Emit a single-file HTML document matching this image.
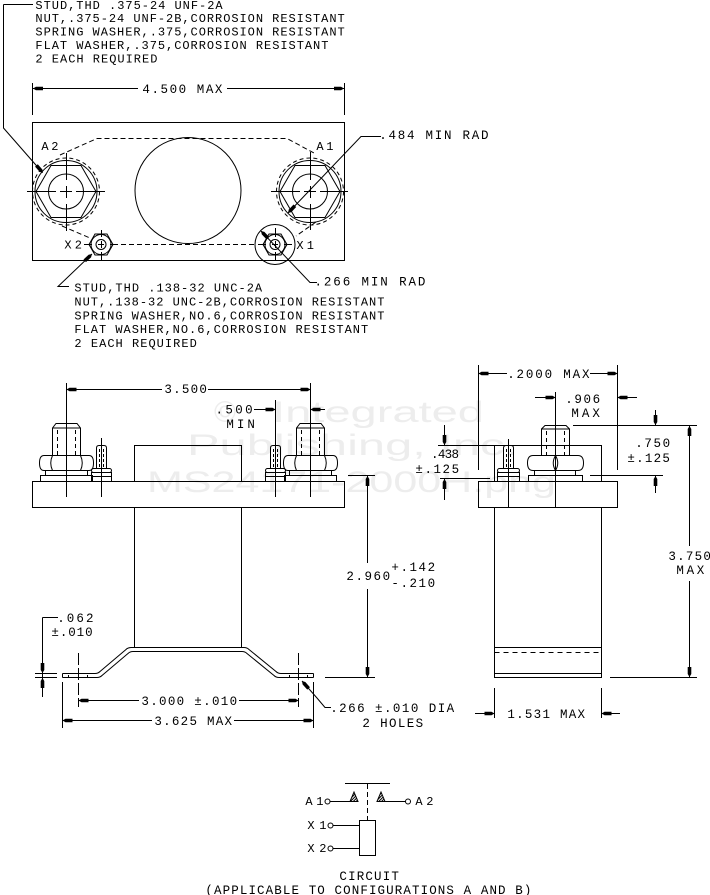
<!DOCTYPE html>
<html><head><meta charset="utf-8"><style>
html,body{margin:0;padding:0;background:#fff}
svg{display:block}
.t{font-family:"Liberation Mono",monospace;fill:#000;stroke:none}
</style></head><body>
<svg xmlns="http://www.w3.org/2000/svg" width="710" height="895" viewBox="0 0 710 895">
<defs>
<polygon id="ar" points="0,0 -3,-1.8 -10,-1.8 -10,1.8 -3,1.8"/>
<pattern id="hatch" width="2" height="2" patternUnits="userSpaceOnUse" patternTransform="rotate(45)"><rect width="2" height="2" fill="#fff"/><rect width="1" height="2" fill="#000"/></pattern>
</defs>
<rect width="710" height="895" fill="#fff"/>

<!-- watermark -->
<g fill="#ededed" font-family="Liberation Sans, sans-serif" font-size="30">
<text x="214" y="422">©</text>
<text x="272" y="422" textLength="212" lengthAdjust="spacingAndGlyphs">Integrated</text>
<text x="187" y="455" textLength="331" lengthAdjust="spacingAndGlyphs">Publishing, Inc.</text>
<text x="147" y="492" textLength="409" lengthAdjust="spacingAndGlyphs">MS24171-2000H.png</text>
</g>

<g stroke="#000" stroke-width="1" fill="none">
<!-- ================= TOP VIEW ================= -->
<path d="M3.5,4.5 H33 M3.5,4.5 V128 L42,172"/>
<path d="M32.5,83 V115 M344.5,83 V115 M33,88.5 H138 M227,88.5 H344"/>
<rect x="32.5" y="122.5" width="312" height="138"/>
<path stroke-dasharray="5,3" d="M60,155 L97,138.5 H287 L314,153 M62,226 L90,238 M113,244.5 H255 M316,222 L296,236"/>
<circle cx="188" cy="190.5" r="53"/>

<!-- A2 -->
<circle cx="66" cy="191.5" r="31"/>
<circle cx="66" cy="191.5" r="33.5" stroke-dasharray="4,3"/>
<polygon points="96,191.5 81,165.5 51,165.5 36,191.5 51,217.5 81,217.5"/>
<circle cx="66" cy="191.5" r="17.5"/>
<path d="M27,191.5 H56 M60,191.5 H72 M76,191.5 H105 M66.5,153 V180 M66.5,186 V198 M66.5,204 V231"/>
<!-- A1 -->
<circle cx="310" cy="191.5" r="31"/>
<circle cx="310" cy="191.5" r="33.5" stroke-dasharray="4,3"/>
<polygon points="340,191.5 325,165.5 295,165.5 280,191.5 295,217.5 325,217.5"/>
<circle cx="310" cy="191.5" r="17.5"/>
<path d="M271,191.5 H300 M304,191.5 H316 M320,191.5 H348 M310.5,152 V180 M310.5,186 V198 M310.5,204 V230"/>
<!-- X2 -->
<polygon points="113,244.5 107,234 95,234 89,244.5 95,255 107,255"/>
<circle cx="101" cy="244.5" r="10"/>
<circle cx="101" cy="244.5" r="5"/>
<path d="M84,244.5 H92 M98,244.5 H104 M110,244.5 H118 M101.5,230 V237 M101.5,241 V248 M101.5,252 V260"/>
<!-- X1 -->
<circle cx="275" cy="244.5" r="20"/>
<polygon points="287,244.5 281,234 269,234 263,244.5 269,255 281,255"/>
<circle cx="275" cy="244.5" r="10"/>
<circle cx="275" cy="244.5" r="5"/>
<path d="M258,244.5 H266 M272,244.5 H278 M284,244.5 H292 M275.5,228 V237 M275.5,241 V248 M275.5,252 V261"/>

<path d="M288,213 L361,136.5 H381"/>
<path d="M261,231 L310,282.5 H317"/>
<path d="M92,254 L58,286.5 H69"/>

<!-- ================= SIDE VIEW (LEFT) ================= -->
<path d="M66.5,383 V497 M310.5,383 V497 M67,389.5 H162 M208,389.5 H310"/>
<path d="M275.5,400 V497 M254,409.5 H275 M311,409.5 H325"/>
<rect x="32.5" y="481.5" width="312" height="26"/>
<path d="M134.5,481.5 V445.5 H241.5 V481.5"/>
<path d="M134.5,507.5 V647.5 M241.5,507.5 V647.5"/>

<!-- left big stud -->
<path d="M52.5,455 V428 L56,423.5 H77 L80.5,428 V455 M52.5,428 H80.5"/>
<path stroke-dasharray="4,3" d="M57.5,430 V455 M75.5,430 V455"/>
<path d="M44,455.5 H89 Q93.5,455.5 93.5,463 Q93.5,470.5 89,470.5 H44 Q39.5,470.5 39.5,463 Q39.5,455.5 44,455.5 Z M52.5,455.5 Q49,463 52.5,470.5 M80.5,455.5 Q84,463 80.5,470.5"/>
<rect x="45.5" y="470.5" width="42" height="5"/>
<rect x="40.5" y="475.5" width="52" height="6"/>
<!-- right big stud -->
<path d="M296.5,455 V428 L300,423.5 H321 L324.5,428 V455 M296.5,428 H324.5"/>
<path stroke-dasharray="4,3" d="M301.5,430 V455 M319.5,430 V455"/>
<path d="M288,455.5 H333 Q337.5,455.5 337.5,463 Q337.5,470.5 333,470.5 H288 Q283.5,470.5 283.5,463 Q283.5,455.5 288,455.5 Z M296.5,455.5 Q293,463 296.5,470.5 M324.5,455.5 Q328,463 324.5,470.5"/>
<rect x="289.5" y="470.5" width="42" height="5"/>
<rect x="284.5" y="475.5" width="52" height="6"/>
<!-- left small stud -->
<path d="M101.5,438 V497"/>
<path d="M96.5,468 V448 Q96.5,445.5 99,445.5 H104 Q106.5,445.5 106.5,448 V468"/>
<path stroke-dasharray="3,2" d="M99.5,449 V468 M103.5,449 V468"/>
<rect x="91.5" y="468.5" width="20" height="4" rx="2"/>
<rect x="91.5" y="472.5" width="20" height="4"/>
<rect x="91.5" y="476.5" width="20" height="5"/>
<!-- right small stud -->
<path d="M270.5,468 V448 Q270.5,445.5 273,445.5 H278 Q280.5,445.5 280.5,448 V468"/>
<path stroke-dasharray="3,2" d="M273.5,449 V468 M277.5,449 V468"/>
<rect x="265.5" y="468.5" width="20" height="4" rx="2"/>
<rect x="265.5" y="472.5" width="20" height="4"/>
<rect x="265.5" y="476.5" width="20" height="5"/>

<!-- 2.960 -->
<path d="M348,475.5 H375 M367.5,476 V563 M367.5,589 V677 M325,677.5 H375"/>

<!-- bracket -->
<path d="M62.5,673.5 H95 Q98,673.5 100,671.5 L126,649.5 Q128,647.5 131,647.5 H244 Q247,647.5 249,649.5 L276,671.5 Q278,673.5 281,673.5 H313.5"/>
<path d="M62.5,677.5 H97 Q100,677.5 102,675.5 L128,653.5 Q130,651.5 133,651.5 H242 Q245,651.5 247,653.5 L274,675.5 Q276,677.5 279,677.5 H313.5"/>
<path d="M62.5,673.5 V677.5 M313.5,673.5 V677.5"/>
<path d="M68.5,675 V677 M87.5,675 V677 M289.5,675 V677 M307.5,675 V677"/>

<!-- .062 -->
<path d="M35,673.5 H57 M35,677.5 H57 M42.5,617.5 H58 M42.5,617.5 V697"/>
<!-- 3.000 -->
<path stroke-dasharray="12,3" d="M78.5,653 V707 M298.5,653 V707"/>
<path d="M79,700.5 H139 M239,700.5 H298"/>
<!-- 3.625 -->
<path d="M62.5,682 V728 M313.5,682 V728 M63,720.5 H152 M234,720.5 H313"/>
<!-- .266 DIA -->
<path d="M302,681 L317,698 L325,707.5 H331"/>

<!-- ================= RIGHT VIEW ================= -->
<path d="M478.5,365 V470 M617.5,365 V470 M479,373.5 H507 M590,373.5 H617"/>
<path d="M555.5,392 V507 M535,397.5 H555 M618,397.5 H637"/>
<rect x="478.5" y="481.5" width="139" height="26"/>
<path d="M494.5,481.5 V445.5 H601.5 V481.5"/>
<path d="M494.5,507.5 V677.5 H601.5 V507.5 M494.5,647.5 H601.5 M494.5,673.5 H601.5"/>
<path stroke-dasharray="5,4" d="M494.5,652.5 H601.5"/>
<!-- big stud right view -->
<path d="M541.5,455 V429 L545,425.5 H566 L569.5,429 V455 M541.5,429 H569.5"/>
<path stroke-dasharray="4,3" d="M546.5,431 V455 M564.5,431 V455"/>
<path d="M533,455.5 H578 Q583.5,455.5 583.5,463 Q583.5,470.5 578,470.5 H533 Q527.5,470.5 527.5,463 Q527.5,455.5 533,455.5 Z M555.5,455.5 Q551,463 555.5,470.5 Q560,463 555.5,455.5"/>
<rect x="534.5" y="470.5" width="41" height="5"/>
<rect x="528.5" y="475.5" width="54" height="6"/>
<!-- small stud right view -->
<path d="M508.5,439 V507"/>
<path d="M503.5,468 V448 Q503.5,445.5 506,445.5 H511 Q513.5,445.5 513.5,448 V468"/>
<path stroke-dasharray="3,2" d="M506.5,449 V468 M510.5,449 V468"/>
<rect x="497.5" y="468.5" width="22" height="4" rx="2"/>
<rect x="497.5" y="472.5" width="22" height="4"/>
<rect x="497.5" y="476.5" width="22" height="5"/>

<!-- .438 -->
<path d="M438,445.5 H503 M440,478.5 H490 M444.5,425 V445 M444.5,479 V500"/>
<!-- .750 -->
<path d="M573,425.5 H697 M590,475.5 H663 M655.5,410 V425 M655.5,476 V493"/>
<!-- 3.750 -->
<path d="M689.5,426 V546 M689.5,581 V677 M610,677.5 H697"/>
<!-- 1.531 -->
<path d="M494.5,688 V718 M601.5,688 V718 M475,713.5 H494 M602,713.5 H620"/>

<!-- ================= CIRCUIT ================= -->
<path d="M345,783.5 H390"/>
<path stroke-dasharray="5,3" d="M367.5,784 V820"/>
<circle cx="327.5" cy="801.5" r="2.5"/>
<path d="M330,801.5 H350 M385,801.5 H405.5"/>
<circle cx="408" cy="801.5" r="2.5"/>
<path d="M350,801.5 L354,792 L358,801.5 Z M377,801.5 L381,792 L385,801.5 Z" fill="url(#hatch)"/>
<circle cx="330.5" cy="825.5" r="2.5"/>
<circle cx="330.5" cy="848.5" r="2.5"/>
<path d="M333,825.5 H359.5 M333,848.5 H359.5"/>
<rect x="359.5" y="820.5" width="16" height="35"/>
</g>

<!-- arrows -->
<g fill="#000">
<use href="#ar" transform="translate(33,88.5) rotate(180)"/>
<use href="#ar" transform="translate(344,88.5)"/>
<use href="#ar" transform="translate(43,173) rotate(48.8)"/>
<use href="#ar" transform="translate(288,213) rotate(133.5)"/>
<use href="#ar" transform="translate(261,231) rotate(-133.9)"/>
<use href="#ar" transform="translate(92,254) rotate(-43.3)"/>
<use href="#ar" transform="translate(66.5,389.5) rotate(180)"/>
<use href="#ar" transform="translate(310.5,389.5)"/>
<use href="#ar" transform="translate(275.5,409.5)"/>
<use href="#ar" transform="translate(310.5,409.5) rotate(180)"/>
<use href="#ar" transform="translate(367.5,476) rotate(-90)"/>
<use href="#ar" transform="translate(367.5,677) rotate(90)"/>
<use href="#ar" transform="translate(42.5,673) rotate(90)"/>
<use href="#ar" transform="translate(42.5,678) rotate(-90)"/>
<use href="#ar" transform="translate(78.5,700.5) rotate(180)"/>
<use href="#ar" transform="translate(298.5,700.5)"/>
<use href="#ar" transform="translate(62.5,720.5) rotate(180)"/>
<use href="#ar" transform="translate(313.5,720.5)"/>
<use href="#ar" transform="translate(302,681) rotate(-131.5)"/>
<use href="#ar" transform="translate(478.5,373.5) rotate(180)"/>
<use href="#ar" transform="translate(617.5,373.5)"/>
<use href="#ar" transform="translate(555.5,397.5)"/>
<use href="#ar" transform="translate(617.5,397.5) rotate(180)"/>
<use href="#ar" transform="translate(444.5,445) rotate(90)"/>
<use href="#ar" transform="translate(444.5,479) rotate(-90)"/>
<use href="#ar" transform="translate(655.5,425) rotate(90)"/>
<use href="#ar" transform="translate(655.5,476) rotate(-90)"/>
<use href="#ar" transform="translate(689.5,426) rotate(-90)"/>
<use href="#ar" transform="translate(689.5,677) rotate(90)"/>
<use href="#ar" transform="translate(494.5,713.5)"/>
<use href="#ar" transform="translate(601.5,713.5) rotate(180)"/>
</g>

<!-- text -->
<g class="t" font-size="12">
<text x="35.4" y="9" textLength="187.2" lengthAdjust="spacing">STUD,THD .375-24 UNF-2A</text>
<text x="35.4" y="22" textLength="309.3" lengthAdjust="spacing">NUT,.375-24 UNF-2B,CORROSION RESISTANT</text>
<text x="35.4" y="35.5" textLength="309.3" lengthAdjust="spacing">SPRING WASHER,.375,CORROSION RESISTANT</text>
<text x="35.4" y="49" textLength="293" lengthAdjust="spacing">FLAT WASHER,.375,CORROSION RESISTANT</text>
<text x="35.4" y="62.5" textLength="122" lengthAdjust="spacing">2 EACH REQUIRED</text>

<text x="74.4" y="291.5" textLength="187.7" lengthAdjust="spacing">STUD,THD .138-32 UNC-2A</text>
<text x="74.4" y="305.5" textLength="310" lengthAdjust="spacing">NUT,.138-32 UNC-2B,CORROSION RESISTANT</text>
<text x="74.4" y="319.5" textLength="310" lengthAdjust="spacing">SPRING WASHER,NO.6,CORROSION RESISTANT</text>
<text x="74.4" y="333" textLength="293.8" lengthAdjust="spacing">FLAT WASHER,NO.6,CORROSION RESISTANT</text>
<text x="74.4" y="347" textLength="122.4" lengthAdjust="spacing">2 EACH REQUIRED</text>

<text x="41.4" y="150" textLength="17" lengthAdjust="spacing">A2</text>
<text x="316.4" y="150" textLength="17" lengthAdjust="spacing">A1</text>
<text x="64.4" y="248.5" textLength="17.5" lengthAdjust="spacing">X2</text>
<text x="296.4" y="249" textLength="17.5" lengthAdjust="spacing">X1</text>

<text x="305.4" y="805" textLength="18" lengthAdjust="spacing">A1</text>
<text x="415.4" y="805" textLength="18" lengthAdjust="spacing">A2</text>
<text x="307.4" y="829" textLength="19" lengthAdjust="spacing">X1</text>
<text x="307.4" y="852" textLength="19" lengthAdjust="spacing">X2</text>
</g>
<g class="t" font-size="12.5">
<text x="142.4" y="93" textLength="80" lengthAdjust="spacing">4.500 MAX</text>
<text x="379.2" y="139" textLength="109.3" lengthAdjust="spacing">.484 MIN RAD</text>
<text x="314.5" y="285.5" textLength="110.9" lengthAdjust="spacing">.266 MIN RAD</text>

<text x="164.4" y="393" textLength="42.5" lengthAdjust="spacing">3.500</text>
<text x="215.5" y="413.5" textLength="37.2" lengthAdjust="spacing">.500</text>
<text x="226.4" y="428" textLength="28.5" lengthAdjust="spacing">MIN</text>
<text x="346.4" y="580" textLength="43.7" lengthAdjust="spacing">2.960</text>
<text x="391.4" y="571" textLength="43.7" lengthAdjust="spacing">+.142</text>
<text x="391.4" y="587" textLength="43.7" lengthAdjust="spacing">-.210</text>
<text x="57.2" y="622" textLength="36.3" lengthAdjust="spacing">.062</text>
<text x="51.4" y="636" textLength="41.2" lengthAdjust="spacing">±.010</text>
<text x="141.4" y="705" textLength="95.7" lengthAdjust="spacing">3.000 ±.010</text>
<text x="154.4" y="725" textLength="77.6" lengthAdjust="spacing">3.625 MAX</text>
<text x="330.2" y="712" textLength="124" lengthAdjust="spacing">.266 ±.010 DIA</text>
<text x="362.4" y="727" textLength="60.7" lengthAdjust="spacing">2 HOLES</text>

<text x="507.2" y="378" textLength="82.3" lengthAdjust="spacing">.2000 MAX</text>
<text x="565.2" y="403" textLength="34.9" lengthAdjust="spacing">.906</text>
<text x="571.4" y="417" textLength="28.5" lengthAdjust="spacing">MAX</text>
<text x="431" y="458" textLength="28" lengthAdjust="spacing">.438</text>
<text x="415.4" y="473" textLength="43.7" lengthAdjust="spacing">±.125</text>
<text x="635.2" y="447" textLength="34.9" lengthAdjust="spacing">.750</text>
<text x="627.4" y="462" textLength="42.5" lengthAdjust="spacing">±.125</text>
<text x="668.4" y="560" textLength="42.5" lengthAdjust="spacing">3.750</text>
<text x="676.4" y="574" textLength="27.9" lengthAdjust="spacing">MAX</text>
<text x="507.4" y="718" textLength="77.6" lengthAdjust="spacing">1.531 MAX</text>

<text x="339.4" y="880" textLength="59.5" lengthAdjust="spacing">CIRCUIT</text>
<text x="205.4" y="894" textLength="326" lengthAdjust="spacing">(APPLICABLE TO CONFIGURATIONS A AND B)</text>
</g>
</svg>
</body></html>
